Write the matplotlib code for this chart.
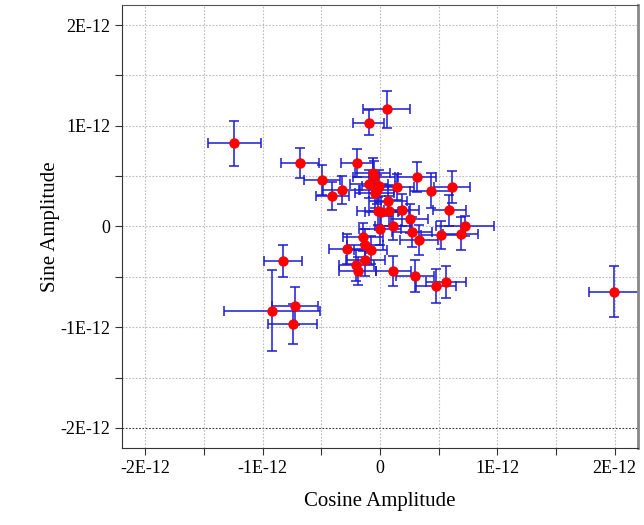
import matplotlib
matplotlib.use("Agg")
import matplotlib.pyplot as plt
import numpy as np
from matplotlib.ticker import FixedLocator, FixedFormatter

# amplitudes in units of 1E-12
cos_amp = [-1.243, -0.681, -0.494, -0.408, -0.327, -0.196, -0.098, 0.059,
           -0.062, -0.049, -0.096, -0.011, -0.047, -0.028, 0.148, 0.313,
           0.433, 0.613, 0.067, -0.020, 0.010, 0.078, 0.184, 0.252,
           0.589, 0.110, 0.002, 0.275, 0.723, 0.519, 0.689, 0.332,
           -0.148, -0.128, -0.278, -0.081, -0.124, -0.202, -0.191, 0.114,
           0.300, 0.474, 0.559, -0.827, -0.920, -0.725, -0.745, 1.995]
sin_amp = [0.826, 0.630, 0.462, 0.300, 0.362, 0.627, 1.030, 1.163,
           0.531, 0.494, 0.419, 0.399, 0.330, 0.367, 0.390, 0.488,
           0.357, 0.395, 0.258, 0.152, 0.139, 0.156, 0.161, 0.079,
           0.159, 0.007, -0.027, -0.057, 0.009, -0.081, -0.070, -0.134,
           -0.102, -0.182, -0.223, -0.230, -0.334, -0.387, -0.439, -0.445,
           -0.494, -0.591, -0.549, -0.345, -0.836, -0.792, -0.968, -0.647]
cos_err = [0.225, 0.165, 0.15, 0.14, 0.16, 0.14, 0.13, 0.20,
           0.15, 0.18, 0.16, 0.14, 0.17, 0.15, 0.14, 0.16,
           0.18, 0.15, 0.16, 0.18, 0.14, 0.17, 0.15, 0.16,
           0.14, 0.15, 0.18, 0.17, 0.25, 0.17, 0.15, 0.16,
           0.17, 0.15, 0.16, 0.14, 0.17, 0.15, 0.16, 0.15,
           0.16, 0.17, 0.17, 0.16, 0.41, 0.20, 0.21, 0.21]
sin_err = [0.225, 0.15, 0.15, 0.14, 0.14, 0.14, 0.125, 0.18,
           0.15, 0.16, 0.14, 0.16, 0.15, 0.14, 0.13, 0.15,
           0.17, 0.16, 0.15, 0.14, 0.16, 0.15, 0.16, 0.14,
           0.15, 0.14, 0.16, 0.15, 0.10, 0.14, 0.16, 0.15,
           0.14, 0.16, 0.15, 0.14, 0.16, 0.15, 0.14, 0.15,
           0.16, 0.17, 0.16, 0.16, 0.40, 0.19, 0.20, 0.25]

major_vals = [-2, -1, 0, 1, 2]
major_labels = ["-2E-12", "-1E-12", "0", "1E-12", "2E-12"]
minor_vals = [-1.5, -0.5, 0.5, 1.5]

scale = 1e-12
x = np.array(cos_amp) * scale
y = np.array(sin_amp) * scale
xe = np.array(cos_err) * scale
ye = np.array(sin_err) * scale

plt.rcParams['font.family'] = ['Liberation Serif', 'DejaVu Serif']

fig = plt.figure(figsize=(6.44, 5.25), dpi=100)
ax = fig.add_axes([0.1894, 0.1467, 0.8014, 0.8438])

lim = 2.2 * scale
ax.set_xlim(-lim, lim)
ax.set_ylim(-lim, lim)

# dotted grid on every half step, bottom line darker
all_ticks = sorted(major_vals + minor_vals)
for v in all_ticks:
    ax.axvline(v * scale, color='#bbbbbb', lw=0.8, ls=(0, (1.5, 1.5)), zorder=0)
    if v == -2:
        ax.axhline(v * scale, color='#333333', lw=0.8, ls=(0, (1.5, 1.5)), zorder=0)
    else:
        ax.axhline(v * scale, color='#bbbbbb', lw=0.8, ls=(0, (1.5, 1.5)), zorder=0)

ax.errorbar(x, y, xerr=xe, yerr=ye, fmt='none', ecolor='#1c1cd2',
            elinewidth=1.3, capsize=3.5, capthick=1.3, alpha=0.85, zorder=2)
ax.plot(x, y, 'o', color='red', markersize=7.5, markeredgewidth=0, zorder=3)

for a in (ax.xaxis, ax.yaxis):
    a.set_major_locator(FixedLocator([v * scale for v in major_vals]))
    a.set_major_formatter(FixedFormatter(major_labels))
    a.set_minor_locator(FixedLocator([v * scale for v in minor_vals]))
ax.tick_params(which='both', direction='out', length=5, width=0.8, colors='#333333',
               labelcolor='black', labelsize=13)

ax.spines['left'].set_color('#333333')
ax.spines['bottom'].set_color('#333333')
ax.spines['top'].set_color('#555555')
ax.spines['right'].set_color('#888888')
ax.spines['right'].set_linewidth(2)

ax.set_xlabel("Cosine Amplitude", fontsize=15, labelpad=11)
ax.set_ylabel("Sine Amplitude", fontsize=15, labelpad=0)

fig.savefig("out.png", dpi=100)
